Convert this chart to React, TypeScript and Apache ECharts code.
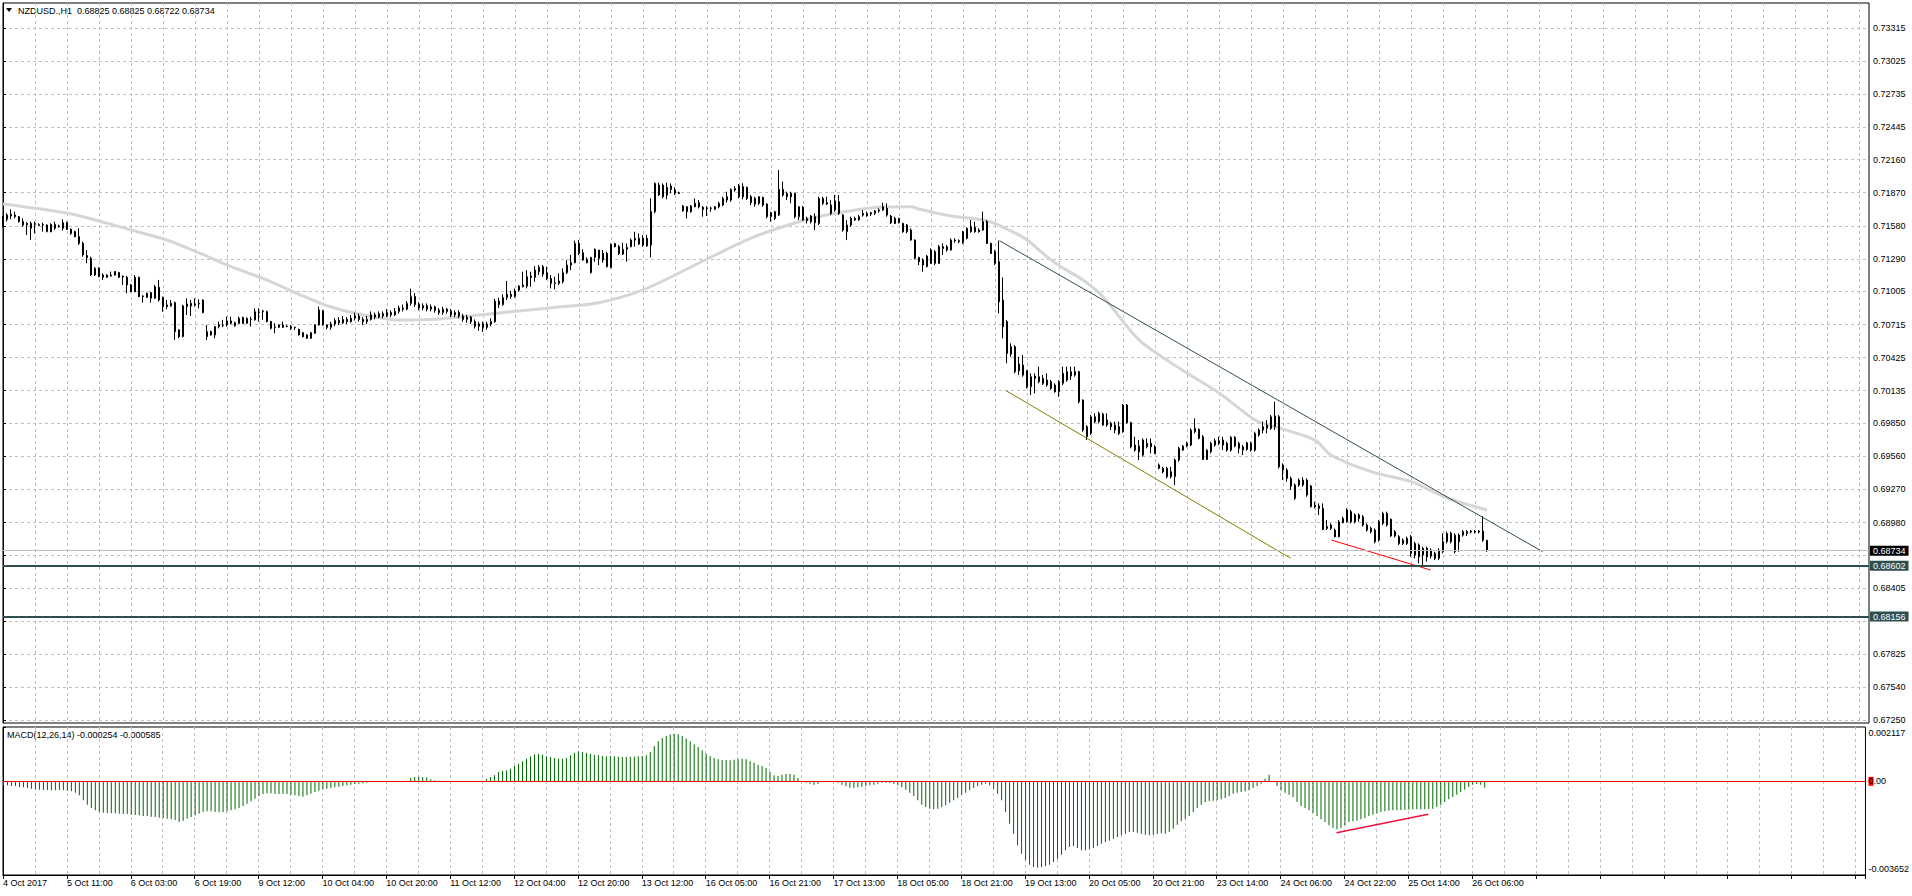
import React, { useEffect, useRef } from 'react';
import * as echarts from 'echarts';

const FONT = '"Liberation Sans", Arial, Helvetica, sans-serif';

const headerText = 'NZDUSD.,H1  0.68825 0.68825 0.68722 0.68734';
const macdHeaderText = 'MACD(12,26,14) -0.000254 -0.000585';

const timeLabels = [
  '4 Oct 2017', '5 Oct 11:00', '6 Oct 03:00', '6 Oct 19:00', '9 Oct 12:00', '10 Oct 04:00',
  '10 Oct 20:00', '11 Oct 12:00', '12 Oct 04:00', '12 Oct 20:00', '13 Oct 12:00', '16 Oct 05:00',
  '16 Oct 21:00', '17 Oct 13:00', '18 Oct 05:00', '18 Oct 21:00', '19 Oct 13:00', '20 Oct 05:00',
  '20 Oct 21:00', '23 Oct 14:00', '24 Oct 06:00', '24 Oct 22:00', '25 Oct 14:00', '26 Oct 06:00',
];

// grid levels of the price scale
const priceTicks = [
  0.6725, 0.6754, 0.67825, 0.68115, 0.68405, 0.6869, 0.6898, 0.6927, 0.6956, 0.6985, 0.70135,
  0.70425, 0.70715, 0.71005, 0.7129, 0.7158, 0.7187, 0.7216, 0.72445, 0.72735, 0.73025, 0.73315,
];
// labels that stay readable (0.68115 and 0.68690 sit under the price tags)
const priceLabels = [
  0.6725, 0.6754, 0.67825, 0.68405, 0.6898, 0.6927, 0.6956, 0.6985, 0.70135,
  0.70425, 0.70715, 0.71005, 0.7129, 0.7158, 0.7187, 0.7216, 0.72445, 0.72735, 0.73025, 0.73315,
];
const priceMin = 0.672237;
const priceMax = 0.735323;
const macdMin = -0.003652;
const macdMax = 0.002117;

const bidLevel = 0.68734;
const levelA = 0.68602;
const levelB = 0.68156;

// [open, close, low, high]
const candles = [
  [0.71587,0.71637,0.71567,0.71666],[0.71637,0.71675,0.71617,0.7169],[0.71666,0.71681,0.71637,0.71725],[0.7166,0.71675,0.71646,0.71704],
  [0.7166,0.71617,0.71608,0.71666],[0.71617,0.71587,0.71573,0.71646],[0.71602,0.7159,0.715,0.71611],[0.71558,0.71602,0.71456,0.71617],
  [0.71599,0.71593,0.71514,0.71617],[0.7159,0.71584,0.71579,0.71602],[0.7159,0.71587,0.71529,0.71608],[0.71529,0.71587,0.71523,0.71593],
  [0.71593,0.71529,0.71523,0.71602],[0.71558,0.71593,0.71544,0.71617],[0.71579,0.71573,0.71564,0.7159],[0.71558,0.71608,0.71538,0.71637],
  [0.71608,0.71549,0.71544,0.71617],[0.71549,0.71514,0.715,0.71558],[0.71529,0.71485,0.71479,0.71538],[0.71485,0.71427,0.71412,0.71558],
  [0.71427,0.71325,0.7131,0.71441],[0.71319,0.71301,0.71252,0.71368],[0.71295,0.71149,0.71141,0.7131],[0.71149,0.71208,0.71141,0.71217],
  [0.71208,0.71135,0.71129,0.71217],[0.71149,0.71129,0.71106,0.71164],[0.71129,0.71149,0.71123,0.71155],[0.71141,0.71149,0.71135,0.71179],
  [0.71179,0.71149,0.71144,0.71184],[0.7117,0.71129,0.71123,0.71176],[0.71138,0.71132,0.71062,0.71144],[0.71129,0.71062,0.70989,0.71141],
  [0.71003,0.71062,0.70998,0.71071],[0.71129,0.71003,0.70998,0.71149],[0.71129,0.7096,0.70954,0.71135],[0.70965,0.7096,0.70907,0.70971],
  [0.70954,0.70989,0.70948,0.70995],[0.70945,0.70995,0.70907,0.71003],[0.70945,0.71047,0.70939,0.71062],[0.71041,0.7093,0.70916,0.71106],
  [0.70954,0.70872,0.70828,0.7096],[0.70887,0.70872,0.70849,0.7093],[0.70878,0.70901,0.70872,0.7093],[0.70907,0.70653,0.7058,0.70916],
  [0.70668,0.70609,0.70595,0.70673],[0.70609,0.70878,0.70603,0.70887],[0.70872,0.70895,0.70799,0.70945],[0.70878,0.70901,0.7079,0.7093],
  [0.70887,0.70895,0.70872,0.70945],[0.70895,0.70901,0.70857,0.70936],[0.7093,0.7082,0.70814,0.70936],[0.70609,0.70653,0.7058,0.70711],
  [0.70624,0.70653,0.70618,0.70662],[0.70624,0.70697,0.70595,0.70703],[0.70697,0.70711,0.70682,0.70741],[0.70706,0.70711,0.70691,0.70756],
  [0.70711,0.70747,0.70697,0.70784],[0.70747,0.70726,0.70717,0.70784],[0.70703,0.70732,0.70697,0.70741],[0.70726,0.7077,0.7072,0.70784],
  [0.70776,0.70726,0.7072,0.70784],[0.70726,0.7077,0.7072,0.70776],[0.70756,0.70761,0.70697,0.70784],[0.70756,0.70828,0.7075,0.70857],
  [0.70825,0.7082,0.70741,0.70857],[0.70828,0.70834,0.70756,0.70843],[0.70828,0.70741,0.70735,0.70837],[0.70741,0.70682,0.70673,0.70747],
  [0.70694,0.70691,0.70638,0.70726],[0.70691,0.70711,0.70685,0.70717],[0.70711,0.70691,0.70685,0.70741],[0.707,0.70697,0.70691,0.70711],
  [0.70697,0.70682,0.70668,0.70711],[0.70691,0.70688,0.70668,0.70697],[0.70673,0.70624,0.70618,0.70679],[0.70644,0.70609,0.70603,0.7065],
  [0.70624,0.70595,0.70589,0.7063],[0.70595,0.70644,0.70589,0.7065],[0.70638,0.70711,0.70633,0.70717],[0.70711,0.70843,0.70706,0.70872],
  [0.70834,0.70711,0.70706,0.70843],[0.70711,0.70691,0.70673,0.70717],[0.70691,0.7072,0.7067,0.7074],[0.7072,0.7075,0.707,0.7077],
  [0.7075,0.7073,0.7071,0.7078],[0.7073,0.7076,0.7072,0.7079],[0.7076,0.7074,0.7072,0.7078],[0.7074,0.7077,0.7073,0.708],
  [0.7077,0.7079,0.7075,0.7082],[0.7079,0.7076,0.7074,0.7081],[0.7076,0.7074,0.7071,0.7078],[0.7074,0.7076,0.7072,0.7079],
  [0.7076,0.708,0.7075,0.7083],[0.708,0.7078,0.7076,0.7082],[0.7078,0.7081,0.7077,0.7083],[0.7081,0.7079,0.7077,0.7083],
  [0.7079,0.7082,0.7078,0.7085],[0.7082,0.708,0.7078,0.7084],[0.708,0.7083,0.7079,0.7086],[0.7083,0.7086,0.7081,0.7088],
  [0.7086,0.7085,0.7083,0.7089],[0.7085,0.709,0.7084,0.7092],[0.709,0.7096,0.7088,0.7103],[0.7096,0.7089,0.7087,0.7099],
  [0.7089,0.7086,0.7084,0.7091],[0.7086,0.7088,0.7084,0.709],[0.7088,0.7085,0.7083,0.709],[0.7085,0.7087,0.7083,0.7089],
  [0.7087,0.7084,0.7082,0.7088],[0.7084,0.7082,0.708,0.7086],[0.7082,0.7085,0.708,0.7087],[0.7085,0.7083,0.7081,0.7086],
  [0.7083,0.708,0.7078,0.7085],[0.708,0.7082,0.7078,0.7084],[0.7082,0.7079,0.7077,0.7084],[0.7079,0.7076,0.7074,0.7081],
  [0.7076,0.7078,0.7073,0.708],[0.7078,0.7074,0.7072,0.7079],[0.7074,0.707,0.7068,0.7076],[0.707,0.7072,0.7066,0.7074],
  [0.7072,0.7069,0.7065,0.7074],[0.7069,0.7072,0.7067,0.7074],[0.7072,0.7074,0.707,0.7077],[0.7074,0.7092,0.7073,0.7094],
  [0.7092,0.7089,0.7086,0.7095],[0.7089,0.7095,0.7088,0.7098],[0.7095,0.7098,0.7093,0.71097],[0.7098,0.7096,0.7094,0.7101],
  [0.7096,0.7101,0.7095,0.7103],[0.71017,0.71052,0.71003,0.71061],[0.71046,0.71061,0.7104,0.71178],[0.71052,0.71134,0.71032,0.71192],
  [0.7114,0.71128,0.71046,0.71178],[0.71128,0.71192,0.7109,0.71228],[0.71178,0.71216,0.71149,0.71236],[0.71222,0.71157,0.71134,0.71236],
  [0.71169,0.71119,0.71105,0.71222],[0.71119,0.71076,0.71032,0.71149],[0.71081,0.71076,0.71023,0.71134],[0.71076,0.71096,0.71061,0.71163],
  [0.7109,0.71169,0.71076,0.71207],[0.71169,0.71236,0.71157,0.7128],[0.71236,0.71257,0.71192,0.71324],[0.71257,0.71426,0.71251,0.7145],
  [0.71426,0.71338,0.71324,0.71455],[0.71344,0.7128,0.71274,0.71374],[0.71286,0.71257,0.71251,0.71303],[0.71169,0.71303,0.71163,0.71309],
  [0.71303,0.71374,0.71266,0.71382],[0.71368,0.71295,0.71236,0.71368],[0.7128,0.71338,0.71257,0.71368],[0.71338,0.71222,0.71216,0.71353],
  [0.71216,0.71417,0.71207,0.71426],[0.71423,0.71397,0.71391,0.71432],[0.71397,0.71338,0.71324,0.71412],[0.71333,0.71374,0.71324,0.71432],
  [0.71374,0.71391,0.71266,0.71426],[0.71397,0.71455,0.71391,0.7147],[0.71455,0.7147,0.71397,0.71528],[0.7147,0.7142,0.71412,0.71514],
  [0.7147,0.71412,0.71397,0.71499],[0.7147,0.71403,0.71397,0.71499],[0.71412,0.71704,0.71303,0.7182],[0.71704,0.71952,0.71689,0.71958],
  [0.71937,0.7185,0.71841,0.71958],[0.71937,0.71835,0.7182,0.71952],[0.7185,0.71917,0.71812,0.71958],[0.71929,0.71899,0.71864,0.71952],
  [0.71893,0.71864,0.7185,0.71917],[0.7187,0.71864,0.71858,0.71879],[0.71753,0.71712,0.71704,0.71762],[0.71704,0.71747,0.71645,0.71753],
  [0.71753,0.71704,0.71695,0.71762],[0.71747,0.71777,0.71742,0.7182],[0.71783,0.71747,0.71733,0.71806],[0.71742,0.71724,0.7166,0.71753],
  [0.71735,0.71733,0.71666,0.71753],[0.71733,0.71735,0.71704,0.71747],[0.71724,0.71747,0.71718,0.71753],[0.71747,0.71777,0.71733,0.71791],
  [0.71762,0.7182,0.71753,0.71835],[0.71835,0.71806,0.71783,0.71879],[0.71806,0.71899,0.71791,0.71908],[0.71893,0.71908,0.71879,0.71929],
  [0.71929,0.71835,0.7182,0.71946],[0.71923,0.71835,0.71812,0.71952],[0.71917,0.7182,0.71806,0.71923],[0.71835,0.71783,0.71762,0.7185],
  [0.7182,0.71771,0.71747,0.71835],[0.71777,0.71835,0.71762,0.71841],[0.71829,0.71762,0.71747,0.71835],[0.71771,0.7166,0.71645,0.71777],
  [0.71695,0.7166,0.71616,0.71704],[0.71645,0.71704,0.71631,0.71712],[0.71674,0.71899,0.71666,0.72069],[0.71899,0.7185,0.71835,0.71967],
  [0.71835,0.71864,0.71806,0.71879],[0.71864,0.71835,0.71777,0.71879],[0.71864,0.7166,0.71645,0.7187],[0.7166,0.71747,0.71631,0.71753],
  [0.71742,0.71631,0.71625,0.71753],[0.71645,0.71625,0.71601,0.7166],[0.71616,0.71666,0.71601,0.71674],[0.7166,0.71607,0.71543,0.71689],
  [0.71601,0.7182,0.71587,0.71835],[0.7182,0.71777,0.71762,0.71835],[0.71783,0.71771,0.71762,0.71835],[0.71762,0.71689,0.71674,0.71806],
  [0.71718,0.718,0.71704,0.7185],[0.71791,0.71689,0.71674,0.7185],[0.71674,0.71543,0.71528,0.71683],[0.71528,0.71587,0.71455,0.71631],
  [0.71587,0.71645,0.71572,0.7166],[0.71645,0.71631,0.71625,0.7166],[0.71631,0.7166,0.71625,0.71674],[0.71674,0.71689,0.7166,0.71718],
  [0.71666,0.71689,0.7166,0.71704],[0.71683,0.71695,0.71666,0.71704],[0.71689,0.7171,0.71674,0.71718],[0.7171,0.71718,0.71695,0.71733],
  [0.71718,0.71747,0.71712,0.71783],[0.71733,0.71674,0.7166,0.71777],[0.71666,0.71607,0.71596,0.71674],[0.71645,0.71601,0.71596,0.7166],
  [0.71607,0.71645,0.71601,0.71651],[0.71601,0.71528,0.7152,0.71607],[0.71528,0.71587,0.71514,0.71596],[0.71543,0.71455,0.7145,0.71558],
  [0.71455,0.71295,0.71286,0.71461],[0.71303,0.71266,0.71236,0.71309],[0.7128,0.71236,0.71178,0.71295],[0.71222,0.71315,0.71216,0.71324],
  [0.71251,0.71368,0.71245,0.71382],[0.71353,0.71251,0.71236,0.71368],[0.71251,0.71397,0.71245,0.71412],[0.71397,0.71382,0.71324,0.71426],
  [0.71368,0.71397,0.71353,0.71412],[0.71368,0.71455,0.71362,0.7147],[0.71455,0.7145,0.71432,0.7147],[0.7145,0.71441,0.71426,0.71461],
  [0.71432,0.71528,0.7142,0.71537],[0.7147,0.71558,0.71461,0.71566],[0.71528,0.71572,0.7152,0.71631],[0.71566,0.71528,0.7152,0.71616],
  [0.71528,0.71543,0.7152,0.71558],[0.71543,0.71616,0.71537,0.71704],[0.71616,0.71426,0.7142,0.71631],[0.71426,0.71338,0.71333,0.71432],
  [0.71353,0.71251,0.71236,0.71368],[0.71266,0.70915,0.70813,0.7145],[0.7093,0.70696,0.70594,0.71128],[0.7074,0.70462,0.70375,0.70754],
  [0.70521,0.70456,0.70433,0.7055],[0.70521,0.70302,0.70287,0.70535],[0.70369,0.7031,0.70272,0.70433],[0.70272,0.7036,0.70258,0.70448],
  [0.7031,0.7017,0.70156,0.70316],[0.7017,0.70258,0.70097,0.70287],[0.70264,0.70243,0.70112,0.70287],[0.70214,0.70258,0.702,0.70346],
  [0.70243,0.702,0.70185,0.70272],[0.70229,0.70185,0.7017,0.70287],[0.70214,0.70156,0.70141,0.70229],[0.70185,0.70126,0.70118,0.702],
  [0.70126,0.70214,0.70082,0.70229],[0.702,0.70287,0.70185,0.70346],[0.70302,0.70229,0.70214,0.70346],[0.70264,0.70302,0.70229,0.70346],
  [0.70302,0.70272,0.70258,0.70346],[0.70302,0.70039,0.70024,0.7031],[0.70053,0.69791,0.69776,0.70059],[0.69732,0.6982,0.69703,0.69834],
  [0.69761,0.69907,0.69747,0.69922],[0.69907,0.69864,0.69849,0.69937],[0.69864,0.69937,0.69849,0.69951],[0.69931,0.69834,0.69826,0.69942],
  [0.69878,0.69834,0.6982,0.69937],[0.69849,0.6982,0.69791,0.69864],[0.69834,0.69791,0.69761,0.69864],[0.6982,0.69761,0.69747,0.69864],
  [0.69776,0.7001,0.69767,0.70018],[0.7001,0.69855,0.69849,0.70018],[0.69855,0.69644,0.6963,0.69864],[0.69659,0.69615,0.69601,0.69732],
  [0.6965,0.69601,0.69528,0.69703],[0.69571,0.69703,0.69557,0.69717],[0.69644,0.69674,0.6963,0.69717],[0.69674,0.69644,0.69586,0.69717],
  [0.69644,0.69586,0.6958,0.69659],[0.69484,0.69455,0.69446,0.69498],[0.69455,0.69425,0.69411,0.69469],[0.69455,0.69382,0.69367,0.69469],
  [0.69425,0.69382,0.69367,0.69469],[0.69382,0.69528,0.69309,0.69542],[0.69528,0.6963,0.69513,0.69644],[0.69615,0.6965,0.69609,0.69659],
  [0.6965,0.69674,0.69639,0.69688],[0.69659,0.69791,0.6965,0.69805],[0.69776,0.69805,0.69761,0.69893],[0.69796,0.69717,0.69709,0.69805],
  [0.69732,0.69533,0.69528,0.69747],[0.69533,0.69615,0.69528,0.69621],[0.69601,0.69674,0.69586,0.69688],[0.69659,0.69697,0.69644,0.69717],
  [0.69674,0.69697,0.69659,0.69732],[0.69703,0.69659,0.69615,0.69732],[0.69615,0.69674,0.69601,0.69688],[0.69615,0.69726,0.69601,0.69738],
  [0.69726,0.6965,0.69639,0.69738],[0.69674,0.6963,0.69586,0.69688],[0.69644,0.69615,0.69571,0.69659],[0.69621,0.69679,0.69609,0.69688],
  [0.69674,0.69615,0.69601,0.69688],[0.69615,0.69761,0.69601,0.69776],[0.69747,0.69791,0.69732,0.69805],[0.69791,0.6982,0.69761,0.69864],
  [0.69805,0.69834,0.69761,0.69878],[0.69805,0.69907,0.69791,0.69922],[0.6982,0.69913,0.69791,0.70039],[0.69907,0.69469,0.69455,0.69922],
  [0.69484,0.6944,0.69352,0.69498],[0.6944,0.69367,0.69338,0.69455],[0.69367,0.693,0.69265,0.69382],[0.69192,0.69309,0.69177,0.69323],
  [0.69309,0.69352,0.69294,0.69367],[0.69352,0.69309,0.69294,0.69376],[0.69352,0.69221,0.69206,0.69367],[0.693,0.69119,0.69113,0.69309],
  [0.69133,0.69119,0.69104,0.69163],[0.69125,0.69104,0.69046,0.69148],[0.69104,0.6892,0.68914,0.69148],[0.68944,0.68929,0.68914,0.69002],
  [0.68929,0.68958,0.68914,0.68973],[0.68914,0.68856,0.6885,0.68929],[0.68856,0.68987,0.6885,0.69002],[0.68979,0.69016,0.68973,0.69031],
  [0.68987,0.6909,0.68979,0.69104],[0.69075,0.68987,0.68973,0.6909],[0.68987,0.69046,0.68973,0.6906],[0.69046,0.69016,0.68987,0.6906],
  [0.69031,0.68958,0.68944,0.69046],[0.68958,0.68914,0.689,0.68973],[0.68929,0.689,0.68885,0.68944],[0.68914,0.68812,0.68797,0.68929],
  [0.68826,0.68987,0.68812,0.69002],[0.68973,0.6906,0.68958,0.69075],[0.6906,0.68958,0.68944,0.69075],[0.69008,0.68862,0.68856,0.69016],
  [0.689,0.68862,0.6885,0.68914],[0.68856,0.68797,0.68783,0.6887],[0.68797,0.68826,0.68783,0.68841],[0.68841,0.68797,0.68783,0.68856],
  [0.68856,0.6871,0.6868,0.6887],[0.68695,0.68797,0.68666,0.68812],[0.68783,0.6868,0.68622,0.68797],[0.68695,0.68754,0.68607,0.68768],
  [0.68754,0.6868,0.68637,0.68768],[0.68686,0.68739,0.68666,0.68754],[0.6871,0.68666,0.68651,0.68724],[0.68666,0.68739,0.68651,0.68754],
  [0.68724,0.68812,0.6871,0.68885],[0.68812,0.68885,0.68797,0.689],[0.68885,0.68812,0.68797,0.689],[0.68724,0.6887,0.6871,0.68885],
  [0.6887,0.68812,0.68724,0.68885],[0.6887,0.689,0.68856,0.68914],[0.689,0.68885,0.68862,0.68914],[0.68897,0.68905,0.68885,0.68914],
  [0.68905,0.68897,0.68885,0.68914],[0.68897,0.68905,0.68885,0.68914],[0.68905,0.68826,0.68812,0.69035],[0.68825,0.68734,0.68722,0.68825],
];

// moving average, read at sampled bars: [bar, price]
const maPoints = [
  [0, 0.71771], [16, 0.71692], [24, 0.71622], [32, 0.71543], [41, 0.71456], [49, 0.71342], [57, 0.71222],
  [66, 0.71105], [74, 0.7098], [81, 0.7088], [89, 0.70807], [99, 0.70755], [109, 0.70764], [119, 0.70799],
  [129, 0.70834], [139, 0.70869], [149, 0.70906], [160, 0.71018], [174, 0.71254], [187, 0.71473], [199, 0.71616],
  [207, 0.71684], [220, 0.71745], [227, 0.71748], [229, 0.71727], [237, 0.71666], [246, 0.71625], [253, 0.71517],
  [256, 0.71456], [262, 0.71281], [265, 0.7121], [270, 0.71105], [275, 0.70959], [284, 0.7058], [294, 0.70334],
  [304, 0.70115], [313, 0.69879], [318, 0.6982], [328, 0.69703], [332, 0.69572], [342, 0.69426], [352, 0.69338],
  [361, 0.69195], [371, 0.6909],
];

const macdHist = [
  -0.000156,-0.000156,-0.000182,-0.000182,-0.000221,-0.000234,-0.00026,-0.000286,-0.000312,-0.000325,
  -0.000338,-0.000338,-0.000351,-0.000351,-0.000338,-0.000351,-0.000364,-0.00039,-0.000442,-0.000546,
  -0.000741,-0.00091,-0.00104,-0.001131,-0.001196,-0.001222,-0.001235,-0.001248,-0.001248,-0.001261,
  -0.001274,-0.001274,-0.0013,-0.001313,-0.001326,-0.001352,-0.001352,-0.001378,-0.001391,-0.001417,
  -0.00143,-0.001456,-0.001482,-0.001508,-0.001586,-0.001534,-0.001456,-0.001391,-0.001326,-0.001261,
  -0.001196,-0.00117,-0.00117,-0.001196,-0.001209,-0.001196,-0.00117,-0.001131,-0.001092,-0.00104,
  -0.000962,-0.000871,-0.00078,-0.000676,-0.000572,-0.000494,-0.000468,-0.000468,-0.000481,-0.000494,
  -0.000481,-0.000494,-0.00052,-0.000546,-0.000572,-0.000598,-0.000546,-0.000481,-0.000416,-0.000364,
  -0.000312,-0.000286,-0.00026,-0.000234,-0.000208,-0.000182,-0.000156,-0.00013,-0.000104,-0.000091,
  -0.000078,-0.000052,-0.000039,-0.000013,-0.000005,0.000003,0.000008,0.000005,0.000002,0.000004,
  0.00001,0.000026,0.00013,0.000169,0.000182,0.000169,0.000156,0.000078,0.000039,0.000026,
  0.000008,0.000005,-0.000003,-0.000026,-0.000005,0.000012,0.000013,0.000006,0.000003,0.000008,
  0.000026,0.000104,0.000169,0.000234,0.000364,0.000403,0.000429,0.000494,0.000598,0.000689,
  0.00078,0.000884,0.000975,0.001053,0.001079,0.00104,0.000975,0.000949,0.00091,0.000884,
  0.000884,0.00091,0.001014,0.001118,0.00117,0.001144,0.001118,0.001079,0.00104,0.001014,
  0.000988,0.000975,0.000988,0.000975,0.000962,0.000949,0.000949,0.000962,0.000962,0.000975,
  0.000988,0.001014,0.001144,0.001378,0.00156,0.00169,0.001768,0.00182,0.001846,0.001833,
  0.001768,0.001664,0.00156,0.00143,0.001339,0.001209,0.001079,0.000988,0.00091,0.000858,
  0.000832,0.000832,0.000819,0.000845,0.000858,0.000884,0.000858,0.00078,0.000728,0.00065,
  0.000598,0.00052,0.000364,0.000234,0.000208,0.00026,0.000286,0.000299,0.00026,0.00013,
  0.000026,-0.000052,-0.000091,-0.00013,-0.000104,-0.000026,-0.000005,-0.00001,-0.000026,-0.000065,
  -0.00013,-0.000195,-0.000247,-0.00026,-0.000234,-0.000208,-0.000182,-0.000156,-0.00013,-0.000091,
  -0.000052,-0.000052,-0.000065,-0.000104,-0.000156,-0.000234,-0.000325,-0.000442,-0.000572,-0.000741,
  -0.00091,-0.001001,-0.001066,-0.001092,-0.001066,-0.001014,-0.000936,-0.000832,-0.000741,-0.00065,
  -0.00052,-0.000442,-0.000351,-0.00026,-0.000182,-0.00013,-0.000091,-0.000156,-0.000286,-0.000481,
  -0.000741,-0.001196,-0.001651,-0.002041,-0.002496,-0.002821,-0.003081,-0.00325,-0.003341,-0.003367,
  -0.003354,-0.003315,-0.00325,-0.003146,-0.003016,-0.00286,-0.002691,-0.002561,-0.002522,-0.0026,
  -0.002691,-0.002691,-0.002652,-0.0026,-0.002522,-0.002431,-0.002366,-0.002314,-0.002236,-0.002171,
  -0.002106,-0.002041,-0.001976,-0.001976,-0.002002,-0.002041,-0.00208,-0.002106,-0.00208,-0.002054,
  -0.002028,-0.002041,-0.001976,-0.001846,-0.00169,-0.00156,-0.001456,-0.001352,-0.001196,-0.00104,
  -0.00091,-0.000806,-0.000767,-0.000754,-0.000741,-0.000702,-0.00065,-0.000572,-0.000481,-0.000442,
  -0.000416,-0.00039,-0.000351,-0.00026,-0.000182,-0.000091,0.000104,0.00026,-0.00001,-0.000182,
  -0.000351,-0.000442,-0.00052,-0.000611,-0.000806,-0.000962,-0.00104,-0.001131,-0.001222,-0.001352,
  -0.001482,-0.001586,-0.001716,-0.00182,-0.001872,-0.00182,-0.001716,-0.001586,-0.00156,-0.001534,
  -0.001482,-0.00143,-0.001352,-0.0013,-0.001248,-0.001196,-0.00117,-0.001144,-0.001131,-0.001131,
  -0.001118,-0.001105,-0.001105,-0.001092,-0.001092,-0.001092,-0.001092,-0.001079,-0.001066,-0.001001,
  -0.00091,-0.000806,-0.000702,-0.000611,-0.00052,-0.000416,-0.000325,-0.000221,-0.00013,-0.000104,
  -0.00013,-0.000254,
];

const upperTrend = [[249.1, 0.7145], [384.9, 0.68725]];
const lowerTrend = [[250.8, 0.70135], [321.9, 0.68667]];
const priceRedLine = [[332.1, 0.68827], [356.9, 0.68564]];
const macdRedLine = [[334, -0.002004], [357, -0.001286]];

const X_MAX = 466.5;

function tagLabel(text: string, bg: string) {
  return {
    show: true,
    position: 'end',
    distance: 1,
    formatter: text,
    color: '#ffffff',
    backgroundColor: bg,
    padding: [1, 3, 0, 3],
    fontSize: 9,
    fontFamily: FONT,
  };
}

function buildOption() {
  const gridLineStyle = { color: '#c0c0c0', width: 1, type: [3, 3] };
  const vGridAxis = (gridIndex: number) => ({
    type: 'value',
    gridIndex,
    min: 0,
    max: X_MAX,
    interval: 8,
    axisLine: { show: false },
    axisTick: { show: false },
    axisLabel: { show: false },
    splitLine: { show: true, showMinLine: false, showMaxLine: false, lineStyle: gridLineStyle },
  });
  return {
    animation: false,
    backgroundColor: '#ffffff',
    grid: [
      { left: 3, top: 3, width: 1866, height: 720, show: true, borderColor: '#000', borderWidth: 1, backgroundColor: 'transparent' },
      { left: 3, top: 727, width: 1866, height: 148, show: true, borderColor: '#000', borderWidth: 1, backgroundColor: 'transparent' },
    ],
    xAxis: [
      vGridAxis(0),
      vGridAxis(1),
      {
        type: 'value',
        gridIndex: 1,
        position: 'bottom',
        min: 0,
        max: X_MAX,
        interval: 16,
        axisLine: { show: true, lineStyle: { color: '#000', width: 1 } },
        axisTick: { show: true, length: 4, lineStyle: { color: '#000' } },
        axisLabel: {
          show: true,
          align: 'left',
          margin: 3,
          fontSize: 9,
          fontFamily: FONT,
          color: '#000',
          formatter: (v: number) => {
            const k = v / 16;
            return Number.isInteger(k) && k < timeLabels.length ? timeLabels[k] : '';
          },
        },
        splitLine: { show: false },
      },
      {
        // hidden axis for the 1px histogram lines, shifted half a pixel so they render crisp
        type: 'value',
        gridIndex: 1,
        show: false,
        min: -0.125,
        max: X_MAX - 0.125,
      },
    ],
    yAxis: [
      {
        type: 'value',
        gridIndex: 0,
        position: 'right',
        min: priceMin,
        max: priceMax,
        axisLine: { show: true, lineStyle: { color: '#000', width: 1 } },
        axisTick: { show: true, length: 3, customValues: priceTicks, lineStyle: { color: '#000' } },
        axisLabel: {
          show: true,
          customValues: priceLabels,
          margin: 4,
          fontSize: 9,
          fontFamily: FONT,
          color: '#000',
          formatter: (v: number) => v.toFixed(5),
        },
        splitLine: { show: true, lineStyle: gridLineStyle },
      },
      {
        type: 'value',
        gridIndex: 1,
        position: 'right',
        min: macdMin,
        max: macdMax,
        axisLine: { show: true, lineStyle: { color: '#000', width: 1 } },
        axisTick: { show: true, length: 3, customValues: [macdMin, 0, macdMax], lineStyle: { color: '#000' } },
        axisLabel: {
          show: true,
          customValues: [macdMin, 0, macdMax],
          margin: 3,
          fontSize: 9,
          fontFamily: FONT,
          color: '#000',
          formatter: (v: number) => {
            if (Math.abs(v) < 1e-9) return '{z|0}{n|.00}';
            if (v > 0) return '{t|' + macdMax.toFixed(6) + '}';
            return '{b|' + macdMin.toFixed(6) + '}';
          },
          rich: {
            t: { fontSize: 9, fontFamily: FONT, color: '#000', padding: [11, 0, 0, 0] },
            b: { fontSize: 9, fontFamily: FONT, color: '#000', padding: [0, 0, 13, 0] },
            z: { fontSize: 9, fontFamily: FONT, color: '#000', backgroundColor: '#ff0000' },
            n: { fontSize: 9, fontFamily: FONT, color: '#000' },
          },
        },
        splitLine: { show: false },
      },
    ],
    series: [
      {
        type: 'line',
        name: 'MA',
        xAxisIndex: 0,
        yAxisIndex: 0,
        data: maPoints,
        smooth: 0.3,
        showSymbol: false,
        silent: true,
        z: 2,
        lineStyle: { color: '#d6d6d6', width: 3 },
      },
      {
        type: 'candlestick',
        name: 'NZDUSD',
        xAxisIndex: 0,
        yAxisIndex: 0,
        layout: 'horizontal',
        data: candles.map((c, i) => [i, c[0], c[1], c[2], c[3]]),
        encode: { x: 0, y: [1, 2, 3, 4] },
        barWidth: 2,
        silent: true,
        z: 3,
        itemStyle: { color: '#ffffff', color0: '#000000', borderColor: '#000000', borderColor0: '#000000', borderWidth: 1 },
      },
      {
        type: 'line',
        name: 'upper',
        xAxisIndex: 0,
        yAxisIndex: 0,
        data: upperTrend,
        showSymbol: false,
        silent: true,
        z: 4,
        lineStyle: { color: '#2f4f4f', width: 1 },
        markLine: {
          silent: true,
          symbol: ['none', 'none'],
          precision: 6,
          animation: false,
          data: [
            { yAxis: bidLevel, lineStyle: { color: '#c0c0c0', width: 1, type: 'solid' }, label: tagLabel(bidLevel.toFixed(5), '#000000') },
            { yAxis: levelA, lineStyle: { color: '#2f4f4f', width: 2, type: 'solid' }, label: tagLabel(levelA.toFixed(5), '#2f4f4f') },
            { yAxis: levelB, lineStyle: { color: '#2f4f4f', width: 2, type: 'solid' }, label: tagLabel(levelB.toFixed(5), '#2f4f4f') },
          ],
        },
      },
      {
        type: 'line',
        name: 'lower',
        xAxisIndex: 0,
        yAxisIndex: 0,
        data: lowerTrend,
        showSymbol: false,
        silent: true,
        z: 4,
        lineStyle: { color: '#808000', width: 1 },
      },
      {
        type: 'line',
        name: 'redPrice',
        xAxisIndex: 0,
        yAxisIndex: 0,
        data: priceRedLine,
        showSymbol: false,
        silent: true,
        z: 4,
        lineStyle: { color: '#ff0000', width: 1 },
      },
      {
        type: 'bar',
        name: 'MACD',
        xAxisIndex: 3,
        yAxisIndex: 1,
        data: macdHist.map((v, i) => [i, v]),
        barWidth: 1,
        silent: true,
        z: 2,
        itemStyle: { color: '#006a00' },
        markLine: {
          silent: true,
          symbol: ['none', 'none'],
          precision: 6,
          animation: false,
          label: { show: false },
          data: [{ yAxis: 0, lineStyle: { color: '#ff0000', width: 1, type: 'solid' } }],
        },
      },
      {
        type: 'line',
        name: 'redMacd',
        xAxisIndex: 1,
        yAxisIndex: 1,
        data: macdRedLine,
        showSymbol: false,
        silent: true,
        z: 4,
        lineStyle: { color: '#e8153c', width: 1.5 },
      },
    ],
    graphic: [
      { type: 'polygon', silent: true, shape: { points: [[6, 8], [12, 8], [9, 12]] }, style: { fill: '#000' } },
      { type: 'text', silent: true, x: 18, y: 10.5, style: { text: headerText, fontSize: 9, fontFamily: FONT, fill: '#000', verticalAlign: 'middle' } },
      { type: 'text', silent: true, x: 7, y: 735, style: { text: macdHeaderText, fontSize: 9, fontFamily: FONT, fill: '#000', verticalAlign: 'middle' } },
    ],
  };
}

export default function App() {
  const ref = useRef<HTMLDivElement>(null);
  useEffect(() => {
    if (!ref.current) return;
    const chart = echarts.init(ref.current, null, { renderer: 'svg' });
    chart.setOption(buildOption() as any);
    return () => chart.dispose();
  }, []);
  return (
    <div
      ref={ref}
      style={{ position: 'fixed', left: 0, top: 0, width: 1912, height: 896, background: '#ffffff' }}
    />
  );
}
